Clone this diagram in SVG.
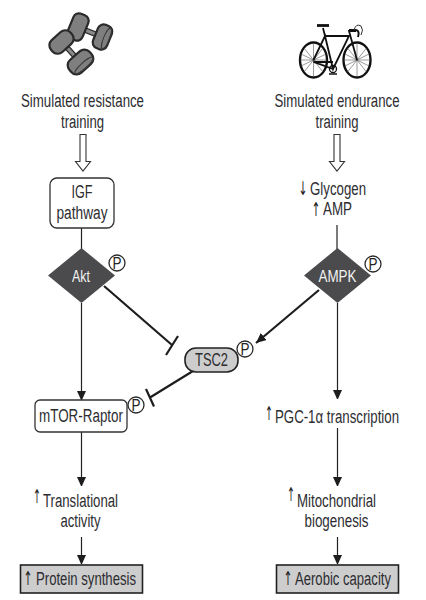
<svg xmlns="http://www.w3.org/2000/svg" width="426" height="600" viewBox="0 0 426 600">
<style>
text{font-family:"Liberation Sans",Arial,sans-serif;font-size:18px;fill:#2b2b2f;opacity:.99}
.m{text-anchor:middle}
.ar{font-family:"DejaVu Sans",sans-serif;font-size:19px;fill:#222;text-anchor:middle}
.w{fill:#f4f4f4;font-size:17px;text-anchor:middle}
.p{fill:#fff;stroke:#2a2a2a;stroke-width:1.3}
.pt{font-size:17px;text-anchor:middle;fill:#222}
.box{fill:#fff;stroke:#333;stroke-width:1.3}
.dia{fill:#4b4b4d}
.res{fill:#cdcdcd;stroke:#222;stroke-width:1.6}
.thin{fill:none;stroke:#222;stroke-width:1.2}
.thick{fill:none;stroke:#1d1d1d;stroke-width:2.2}
.hol{fill:#fff;stroke:#333;stroke-width:1.1}
.disc{fill:#7f7f7f;stroke:#2a2a2a;stroke-width:2.200}
.face{fill:none;stroke:#3a3a3a;stroke-width:1}
.bar{fill:#8a8a8a;stroke:#2a2a2a;stroke-width:1.2}
.wh{fill:none;stroke:#111;stroke-width:2.4}
.sp{fill:none;stroke:#555;stroke-width:.6}
.fr{fill:none;stroke:#111;stroke-width:1.8}
</style>
<defs>
<marker id="a" markerUnits="userSpaceOnUse" markerWidth="9" markerHeight="11" refX="9" refY="4.5" orient="auto"><path d="M0 0L10 4.5L0 9Z" fill="#1d1d1d"/></marker>
<marker id="b" markerUnits="userSpaceOnUse" markerWidth="11" markerHeight="10" refX="10" refY="4.5" orient="auto"><path d="M0 0L10 4.5L0 9Z" fill="#1d1d1d"/></marker>
</defs>

<g id="dumbbells">
<rect class="bar" x="-12" y="-2.200" width="24" height="4.400" transform="translate(90 32) rotate(22)"/>
<rect class="disc" x="-8" y="-13.500" width="16" height="27" rx="6" transform="translate(78 27) rotate(22)"/>
<rect class="disc" x="-7.500" y="-12.500" width="15" height="25" rx="6" transform="translate(102.500 37) rotate(22)"/>
<ellipse class="face" rx="3" ry="11" transform="translate(106.500 38.500) rotate(22)"/>
<rect class="bar" x="-12" y="-2.200" width="24" height="4.400" transform="translate(71 52) rotate(48)"/>
<rect class="disc" x="-8" y="-13" width="16" height="26" rx="7" transform="translate(61.500 42) rotate(48)"/>
<rect class="disc" x="-8.500" y="-13.500" width="17" height="27" rx="7" transform="translate(80.500 62) rotate(48)"/>
<ellipse class="face" rx="3" ry="12" transform="translate(84 65.500) rotate(48)"/>
</g>

<g id="bicycle">
<ellipse class="wh" cx="313.500" cy="60" rx="13.500" ry="17.500"/>
<ellipse class="wh" cx="357" cy="60" rx="13.500" ry="17.500"/>
<path class="sp" d="M300 60H327M313.500 43V77M304 48L323 72M304 72L323 48M301 54L326 66M301 66L326 54M343.500 60H370.500M357 43V77M347.500 48L366.500 72M347.500 72L366.500 48M345 54L369 66M345 66L369 54"/>
<path class="fr" d="M313.500 60L325 36L333 69L349 36H325M333 69L313.500 62H333"/>
<path class="fr" d="M357 60L349 31H356M325 36L323 28"/>
<path d="M317 25.500H329" fill="none" stroke="#111" stroke-width="2.800"/>
<path d="M349 30H356Q360 31 358 37" fill="none" stroke="#111" stroke-width="2"/>
<path d="M354 30Q356 23 361 26Q364 30 361 35" fill="none" stroke="#333" stroke-width="1"/>
<path d="M329 74H337" fill="none" stroke="#111" stroke-width="1.500"/>
<circle cx="333" cy="69" r="3.500" fill="none" stroke="#111" stroke-width="1.300"/>
</g>

<g id="connectors">
<path class="hol" d="M80 134.500H86V161.500H90.500L83 171L75.500 161.500H80Z"/>
<path class="hol" d="M334 134.500H340V161.500H344.500L337 171L329.500 161.500H334Z"/>
<path class="thin" d="M81.500 227V249"/>
<path class="thin" marker-end="url(#a)" d="M81.500 303V400"/>
<path class="thin" marker-end="url(#a)" d="M81.500 432V486"/>
<path class="thin" marker-end="url(#a)" d="M81.500 537V564"/>
<path class="thin" d="M337 225V249"/>
<path class="thin" marker-end="url(#a)" d="M337.500 303V399"/>
<path class="thin" marker-end="url(#a)" d="M337.500 428V486"/>
<path class="thin" marker-end="url(#a)" d="M337.500 537V564"/>
<path class="thick" d="M104 286L172 345M166 355L178 336"/>
<path class="thick" d="M193 371L150 397.500M146 389L154 406.500"/>
<path class="thick" marker-end="url(#b)" d="M319 290L256 343"/>
</g>

<g id="label-resistance">
<text class="m" x="82.500" y="107" textLength="123" lengthAdjust="spacingAndGlyphs">Simulated resistance</text>
<text class="m" x="82.500" y="128" textLength="43" lengthAdjust="spacingAndGlyphs">training</text>
</g>
<g id="label-endurance">
<text class="m" x="337" y="107" textLength="125" lengthAdjust="spacingAndGlyphs">Simulated endurance</text>
<text class="m" x="337" y="128" textLength="43" lengthAdjust="spacingAndGlyphs">training</text>
</g>

<g id="igf">
<rect class="box" x="50" y="178" width="64" height="50" rx="7"/>
<text class="m" x="82" y="198" textLength="21" lengthAdjust="spacingAndGlyphs">IGF</text>
<text class="m" x="82" y="219" textLength="51" lengthAdjust="spacingAndGlyphs">pathway</text>
</g>

<g id="glycogen-amp">
<text class="ar" x="303" y="195" textLength="9" lengthAdjust="spacingAndGlyphs">↓</text>
<text x="310" y="195" textLength="56" lengthAdjust="spacingAndGlyphs">Glycogen</text>
<text class="ar" x="316" y="216" textLength="9" lengthAdjust="spacingAndGlyphs">↑</text>
<text x="323" y="215" textLength="29" lengthAdjust="spacingAndGlyphs">AMP</text>
</g>

<g id="akt">
<path class="dia" d="M81.500 248L115 275.500L81.500 303L48 275.500Z"/>
<text class="w" x="81" y="282" textLength="18" lengthAdjust="spacingAndGlyphs">Akt</text>
<circle class="p" cx="117" cy="263" r="8"/>
<text class="pt" x="117" y="269" textLength="9" lengthAdjust="spacingAndGlyphs">P</text>
</g>

<g id="ampk">
<path class="dia" d="M337.500 248L371 275.500L337.500 303L304 275.500Z"/>
<text class="w" x="337.500" y="282" textLength="38" lengthAdjust="spacingAndGlyphs">AMPK</text>
<circle class="p" cx="373" cy="264" r="8"/>
<text class="pt" x="373" y="270" textLength="9" lengthAdjust="spacingAndGlyphs">P</text>
</g>

<g id="tsc2">
<rect class="res" x="185" y="348" width="53" height="24" rx="11"/>
<text class="m" x="211.500" y="366" textLength="33" lengthAdjust="spacingAndGlyphs">TSC2</text>
<circle class="p" cx="245" cy="349" r="8"/>
<text class="pt" x="245" y="355" textLength="9" lengthAdjust="spacingAndGlyphs">P</text>
</g>

<g id="mtor">
<rect class="box" x="35" y="400" width="92" height="32" rx="5"/>
<text class="m" x="81" y="422" textLength="84" lengthAdjust="spacingAndGlyphs">mTOR-Raptor</text>
<circle class="p" cx="136" cy="405" r="8"/>
<text class="pt" x="136" y="411" textLength="9" lengthAdjust="spacingAndGlyphs">P</text>
</g>

<g id="pgc">
<text class="ar" x="269" y="420" textLength="8" lengthAdjust="spacingAndGlyphs">↑</text>
<text x="275" y="423" textLength="124" lengthAdjust="spacingAndGlyphs">PGC-1α transcription</text>
</g>

<g id="translational">
<text class="ar" x="37" y="503" textLength="8" lengthAdjust="spacingAndGlyphs">↑</text>
<text x="43" y="507" textLength="75" lengthAdjust="spacingAndGlyphs">Translational</text>
<text class="m" x="80.500" y="527" textLength="40" lengthAdjust="spacingAndGlyphs">activity</text>
</g>

<g id="mitochondrial">
<text class="ar" x="291" y="501" textLength="8" lengthAdjust="spacingAndGlyphs">↑</text>
<text x="297" y="507" textLength="79" lengthAdjust="spacingAndGlyphs">Mitochondrial</text>
<text class="m" x="336.500" y="527" textLength="64" lengthAdjust="spacingAndGlyphs">biogenesis</text>
</g>

<g id="protein">
<rect class="res" x="20.500" y="565" width="122" height="28"/>
<text class="ar" x="28" y="585" textLength="9" lengthAdjust="spacingAndGlyphs">↑</text>
<text x="36" y="585" textLength="100" lengthAdjust="spacingAndGlyphs">Protein synthesis</text>
</g>

<g id="aerobic">
<rect class="res" x="276.500" y="565" width="122" height="28"/>
<text class="ar" x="288" y="585" textLength="9" lengthAdjust="spacingAndGlyphs">↑</text>
<text x="295" y="585" textLength="96" lengthAdjust="spacingAndGlyphs">Aerobic capacity</text>
</g>
</svg>
